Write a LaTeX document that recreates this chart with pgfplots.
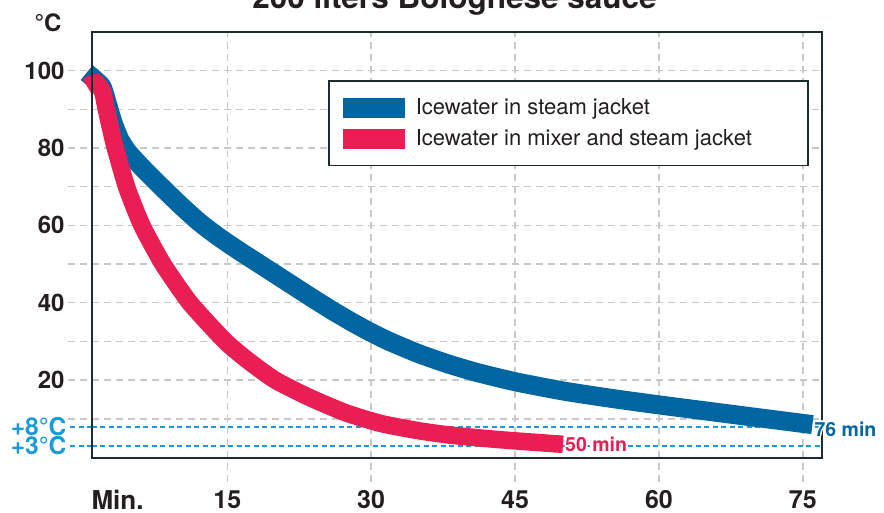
\documentclass[border=0pt]{standalone}
\usepackage{fontspec}
\setmainfont{TeX Gyre Heros}
\usepackage{pgfplots}
\pgfplotsset{compat=1.18}
\definecolor{cBlue}{HTML}{0066A1}
\definecolor{cRed}{HTML}{E91E52}
\definecolor{cLight}{HTML}{1A9AD9}
\definecolor{cGrid}{HTML}{C8C8C8}
\definecolor{cAxis}{HTML}{1E2B2E}
\definecolor{cText}{HTML}{231F20}

\pgfplotstableread{
t v
0.35 99.5
1.9 96.0
2.5 91.5
3.1 86.5
3.8 82.2
4.6 79.1
5.5 76.6
6.5 74.0
8 70.3
10 65.5
12 61.0
14 57.2
16 53.8
18 50.6
20 47.4
22 44.2
24 41.0
26 37.9
28 35.0
30 32.3
32 29.9
35 26.8
38 24.2
41 22.0
45 19.6
50 17.2
55 15.3
60 13.6
65 12.0
70 10.4
76 8.5
}\blue

\pgfplotstableread{
t v
0.4 95.9
1.3 96.9
2.0 94.6
2.35 90.5
2.8 85.5
3.3 80.3
4.5 70
6.1 60
8.3 50
11.1 40
14.8 30
17.3 24.8
20 20.0
23.5 15.6
27.3 11.6
31 8.8
35 6.9
38.2 5.8
42 4.9
45 4.3
50 3.4
}\red

\begin{document}
\begin{tikzpicture}[x=1pt,y=1pt]
\begin{axis}[
  at={(92pt,54.5pt)}, anchor=south west,
  scale only axis, width=730pt, height=425.5pt,
  xmin=0.9, xmax=77, ymin=0, ymax=110,
  clip=false,
  xtick={15,30,45,60,75},
  xticklabels={15,30,45,60,75},
  ytick={10,20,...,100},
  yticklabels={,20,,40,,60,,80,,100},
  tick pos=left,
  tick align=outside,
  major tick length=24pt,
  major tick style={draw=cGrid, line width=1.4pt, dash pattern=on 7pt off 5pt},
  grid=major,
  major grid style={draw=cGrid, line width=1.4pt, dash pattern=on 7pt off 5pt},
  axis line style={draw=cAxis, line width=2pt},
  ticklabel style={font=\fontsize{24}{28}\selectfont\bfseries, text=cText},
  xticklabel style={inner sep=1pt, yshift=-8pt, font=\fontsize{25}{28}\selectfont\bfseries},
  extra y ticks={3,8},
  extra y tick labels={+3°C,+8°C},
  extra y tick style={
    grid=major,
    major tick style={draw=cLight, line width=2pt, dash pattern=on 5pt off 3.5pt},
    major grid style={draw=cLight, line width=2pt, dash pattern=on 5pt off 3.5pt},
    major tick length=22pt,
    yticklabel style={text=cLight, inner sep=0.5pt, xshift=-3pt, font=\fontsize{24.5}{26}\selectfont\bfseries},
  },
  legend style={at={(0.3233,0.887)}, anchor=north west, draw=cAxis,
    line width=1.5pt, fill=white, font=\fontsize{22}{26}\selectfont,
    text=cText, inner xsep=14pt, inner ysep=16pt, row sep=9.5pt, column sep=9pt,
    cells={anchor=west}},
  legend cell align=left,
  legend image code/.code={\fill[#1, draw=none] (0pt,-10pt) rectangle (62pt,10pt);},
]
\addplot[color=cBlue, line width=19pt, line join=miter, smooth, tension=0.35] table[x=t,y=v] {\blue};
\addlegendentry{\makebox[376pt][l]{Icewater in steam jacket}}
\addplot[color=cRed, line width=17.5pt, line join=miter, smooth, tension=0.35] table[x=t,y=v] {\red};
\addlegendentry{\makebox[376pt][l]{Icewater in mixer and steam jacket}}
\draw[cAxis, line width=2pt] (rel axis cs:0,0) -- (rel axis cs:0,1);
\coordinate (e50) at (axis cs:50,3.4);
\coordinate (e76) at (axis cs:76,8.4);
\end{axis}
\foreach \dx/\dy in {1.6/0,-1.6/0,0/1.6,0/-1.6,1.1/1.1,-1.1/1.1,1.1/-1.1,-1.1/-1.1}{
  \node[anchor=west, inner sep=2pt, font=\fontsize{19.5}{22}\selectfont\bfseries, text=white] at ([shift={(\dx,\dy)}]e50) {50 min};
  \node[anchor=west, inner sep=2pt, font=\fontsize{19.5}{22}\selectfont\bfseries, text=white] at ([shift={(\dx,\dy-4)}]e76) {76 min};
}
\node[anchor=west, inner sep=2pt, font=\fontsize{19.5}{22}\selectfont\bfseries, text=cRed] at (e50) {50 min};
\node[anchor=west, inner sep=2pt, font=\fontsize{19.5}{22}\selectfont\bfseries, text=cBlue] at ([yshift=-4pt]e76) {76 min};
\node[anchor=base, font=\fontsize{31.5}{36}\selectfont\bfseries, text=cText] at (454.5,503) {200 liters Bolognese sauce};
\node[anchor=base, font=\fontsize{24}{28}\selectfont\bfseries, text=cText] at (48,480) {°C};
\node[anchor=base, inner sep=0pt, font=\fontsize{26}{28}\selectfont\bfseries, text=cText] at (117.5,3) {Min.};
\pgfresetboundingbox
\useasboundingbox (0,0) rectangle (884,512);
\end{tikzpicture}
\end{document}
